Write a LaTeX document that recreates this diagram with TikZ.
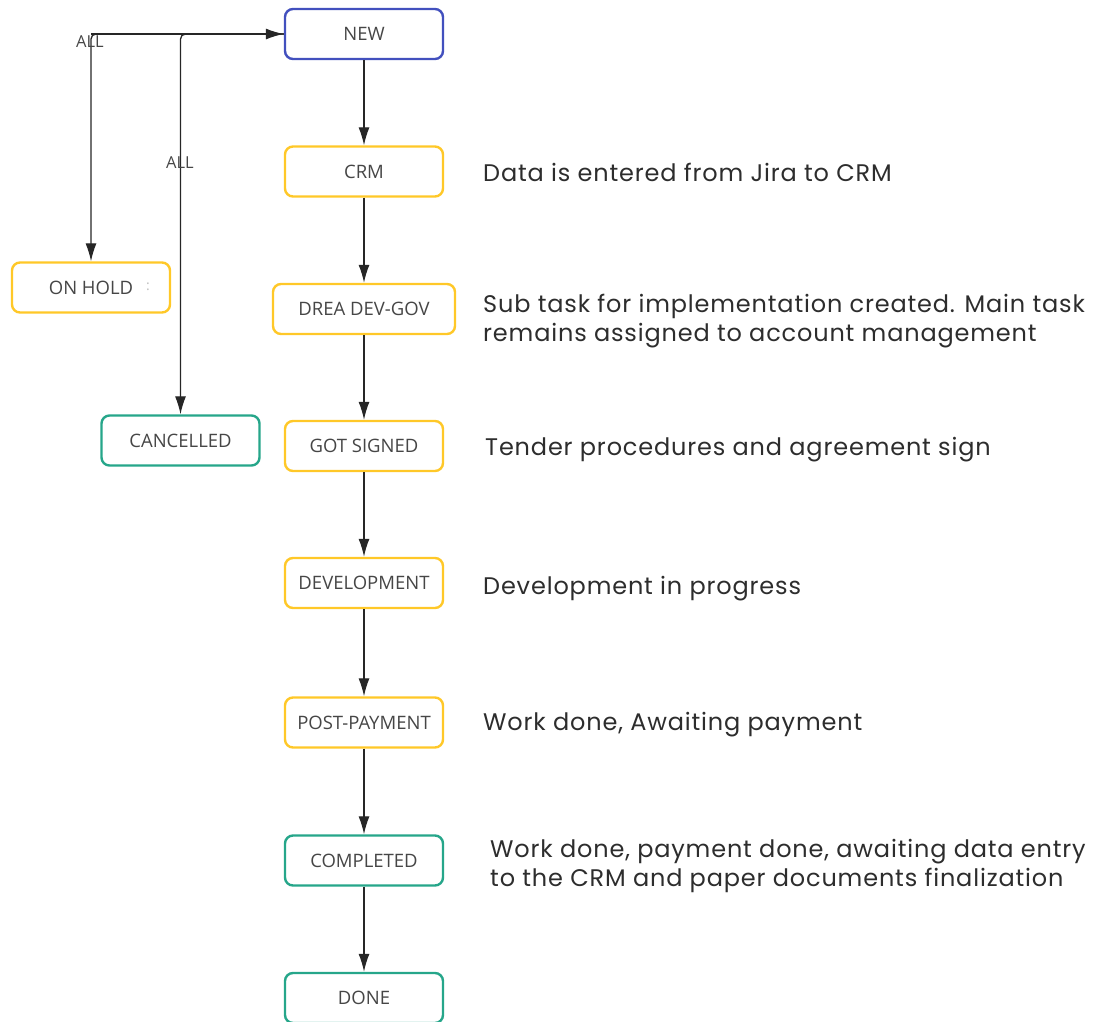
\documentclass[tikz,border=0pt]{standalone}
\usepackage{fontspec}
\setmainfont{Open Sans}
\newfontfamily\notefont[LetterSpace=3.5]{Poppins}
\usetikzlibrary{arrows.meta}
\definecolor{stblue}{RGB}{66,80,190}
\definecolor{styellow}{RGB}{255,200,40}
\definecolor{stteal}{RGB}{38,166,138}
\definecolor{labelgray}{RGB}{70,70,70}
\definecolor{notegray}{RGB}{45,45,45}
\tikzset{
  state/.style={draw, rectangle, rounded corners=8pt, line width=2.4pt,
    minimum width=158pt, minimum height=50pt, inner sep=0pt,
    font=\fontsize{18.5}{21}\selectfont, text=labelgray, fill=white},
  startstate/.style={state, draw=stblue},
  workstate/.style={state, draw=styellow},
  endstate/.style={state, draw=stteal},
  flow/.style={-{Latex[length=18pt,width=11pt]}, line width=1.3pt, draw=black!85},
  note/.style={anchor=base west, inner sep=0pt, text=notegray,
    font=\notefont\fontsize{24}{29}\selectfont, align=left},
  edgelabel/.style={inner sep=1pt, text=labelgray, font=\fontsize{16.5}{18}\selectfont}
}
\begin{document}
\begin{tikzpicture}[x=1pt,y=-1pt]
\useasboundingbox (0,0) rectangle (1109,1021);

% main workflow column
\node[startstate] (new) at (364,34) {NEW};
\node[workstate] (crm) at (364,171.5) {CRM};
\node[workstate, minimum width=182pt] (drea) at (364,309) {DREA DEV-GOV};
\node[workstate] (signed) at (364,446) {GOT SIGNED};
\node[workstate] (dev) at (364,583) {DEVELOPMENT};
\node[workstate] (post) at (364,722.5) {POST-PAYMENT};
\node[endstate] (completed) at (364,860.5) {COMPLETED};
\node[endstate] (done) at (364,998) {DONE};

% side states reachable from any state
\node[workstate] (onhold) at (91,287.5) {ON HOLD};
\node[text=black!25, font=\fontsize{14}{16}\selectfont, inner sep=0pt] (holdmark) at (148,287) {:};
\node[endstate] (cancelled) at (180.5,440.5) {CANCELLED};

% transitions down the column
\draw[flow] (new) -- (crm);
\draw[flow] (crm) -- (drea);
\draw[flow] (drea) -- (signed);
\draw[flow] (signed) -- (dev);
\draw[flow] (dev) -- (post);
\draw[flow] (post) -- (completed);
\draw[flow] (completed) -- (done);

% "ALL" transitions
\coordinate (hub) at (91,34);
\draw[flow, rounded corners=5pt] (new.west) -| (onhold.north);
\draw[flow, rounded corners=5pt] (new.west) -| (cancelled.north);
\draw[flow] (hub) -- (new.west);
\node[edgelabel] (allhold) at (90,42) {ALL};
\node[edgelabel] (allcancel) at (180,163) {ALL};

% descriptions (anchored on the baseline of the last line)
\node[note] (n1) at (483,181.5) {Data is entered from Jira to CRM};
\node[note] (n2) at (483,341) {Sub task for implementation created. Main task\\remains assigned to account management};
\node[note] (n3) at (485,455) {Tender procedures and agreement sign};
\node[note] (n4) at (483,594) {Development in progress};
\node[note] (n5) at (483,730) {Work done, Awaiting payment};
\node[note] (n6) at (490,886) {Work done, payment done, awaiting data entry\\to the CRM and paper documents finalization};
\end{tikzpicture}
\end{document}
